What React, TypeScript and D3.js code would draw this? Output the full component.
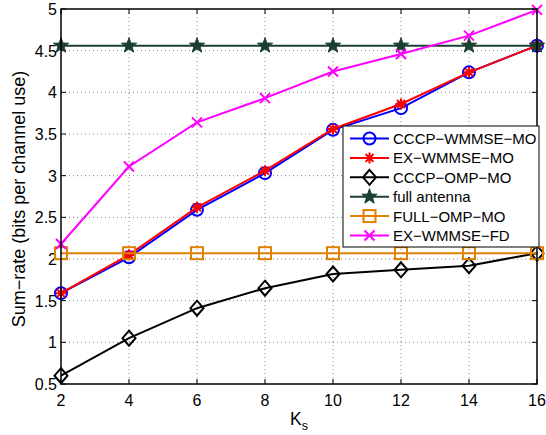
import React from "react";
import * as d3 from "d3";

const ks = [2, 4, 6, 8, 10, 12, 14, 16];
const cccpWmmseMo = [1.59, 2.02, 2.59, 3.03, 3.55, 3.81, 4.24, 4.56];
const exWmmseMo = [1.59, 2.05, 2.62, 3.06, 3.56, 3.86, 4.24, 4.56];
const cccpOmpMo = [0.6, 1.05, 1.41, 1.65, 1.82, 1.87, 1.92, 2.07];
const fullAntenna = [4.56, 4.56, 4.56, 4.56, 4.56, 4.56, 4.56, 4.56];
const fullOmpMo = [2.07, 2.07, 2.07, 2.07, 2.07, 2.07, 2.07, 2.07];
const exWmmseFd = [2.18, 3.11, 3.64, 3.93, 4.25, 4.46, 4.68, 4.99];

const xTicks = [2, 4, 6, 8, 10, 12, 14, 16];
const yTicks = [0.5, 1, 1.5, 2, 2.5, 3, 3.5, 4, 4.5, 5];

const series = [
  { name: "CCCP\u2212WMMSE\u2212MO", values: cccpWmmseMo, color: "#0000ff", marker: "circle" },
  { name: "EX\u2212WMMSE\u2212MO", values: exWmmseMo, color: "#ff0000", marker: "asterisk" },
  { name: "CCCP\u2212OMP\u2212MO", values: cccpOmpMo, color: "#000000", marker: "diamond" },
  { name: "full antenna", values: fullAntenna, color: "#1b4030", marker: "star" },
  { name: "FULL\u2212OMP\u2212MO", values: fullOmpMo, color: "#df8000", marker: "square" },
  { name: "EX\u2212WMMSE\u2212FD", values: exWmmseFd, color: "#ff00ff", marker: "cross" },
];

const W = 546;
const H = 435;
const m = { left: 61, right: 537, top: 9, bottom: 384 };
const font = "'Liberation Sans', Arial, Helvetica, sans-serif";

const x = d3.scaleLinear().domain([2, 16]).range([m.left, m.right]);
const y = d3.scaleLinear().domain([0.5, 5]).range([m.bottom, m.top]);

function starPath(cx: number, cy: number, R: number) {
  const r = R * 0.4;
  const pts: string[] = [];
  for (let i = 0; i < 10; i++) {
    const a = -Math.PI / 2 + (i * Math.PI) / 5;
    const rr = i % 2 === 0 ? R : r;
    pts.push(`${cx + rr * Math.cos(a)},${cy + rr * Math.sin(a)}`);
  }
  return "M" + pts.join("L") + "Z";
}

function Marker({ type, cx, cy, color }: { type: string; cx: number; cy: number; color: string }) {
  const sw = 2;
  if (type === "circle")
    return <circle cx={cx} cy={cy} r={6} fill="none" stroke={color} strokeWidth={sw} />;
  if (type === "square")
    return <rect x={cx - 6} y={cy - 6} width={12} height={12} fill="none" stroke={color} strokeWidth={sw} />;
  if (type === "diamond")
    return (
      <path
        d={`M${cx},${cy - 7.5}L${cx + 6.5},${cy}L${cx},${cy + 7.5}L${cx - 6.5},${cy}Z`}
        fill="none"
        stroke={color}
        strokeWidth={sw}
      />
    );
  if (type === "star")
    return <path d={starPath(cx, cy, 8)} fill={color} stroke={color} strokeWidth={1} />;
  if (type === "cross") {
    const s = 5;
    return (
      <path
        d={`M${cx - s},${cy - s}L${cx + s},${cy + s}M${cx - s},${cy + s}L${cx + s},${cy - s}`}
        stroke={color}
        strokeWidth={sw}
      />
    );
  }
  // asterisk
  const s = 5.5;
  const d2 = s * 0.72;
  return (
    <path
      d={`M${cx},${cy - s}L${cx},${cy + s}M${cx - s},${cy}L${cx + s},${cy}M${cx - d2},${cy - d2}L${cx + d2},${cy + d2}M${cx - d2},${cy + d2}L${cx + d2},${cy - d2}`}
      stroke={color}
      strokeWidth={sw}
    />
  );
}

export default function App() {
  const line = d3
    .line<number>()
    .x((_, i) => x(ks[i]))
    .y((d) => y(d));

  const lg = { x: 343, y: 126, w: 196, h: 121, step: 19.4 };

  return (
    <svg width={W} height={H} style={{ position: "absolute", left: 0, top: 0 }} fontFamily={font}>
      <rect x={0} y={0} width={W} height={H} fill="#fff" />
      {/* grid */}
      {xTicks.slice(1, -1).map((t) => (
        <line key={"gx" + t} x1={x(t)} x2={x(t)} y1={m.top} y2={m.bottom} stroke="#888" strokeWidth={1} strokeDasharray="1,3" />
      ))}
      {yTicks.slice(1, -1).map((t) => (
        <line key={"gy" + t} x1={m.left} x2={m.right} y1={y(t)} y2={y(t)} stroke="#888" strokeWidth={1} strokeDasharray="1,3" />
      ))}
      {/* ticks */}
      {xTicks.map((t) => (
        <g key={"tx" + t}>
          <line x1={x(t)} x2={x(t)} y1={m.bottom} y2={m.bottom - 5} stroke="#000" />
          <line x1={x(t)} x2={x(t)} y1={m.top} y2={m.top + 5} stroke="#000" />
          <text x={x(t)} y={406} fontSize={16} textAnchor="middle">
            {t}
          </text>
        </g>
      ))}
      {yTicks.map((t) => (
        <g key={"ty" + t}>
          <line x1={m.left} x2={m.left + 5} y1={y(t)} y2={y(t)} stroke="#000" />
          <line x1={m.right} x2={m.right - 5} y1={y(t)} y2={y(t)} stroke="#000" />
          <text x={57} y={y(t) + 6} fontSize={16} textAnchor="end">
            {String(t)}
          </text>
        </g>
      ))}
      {/* series */}
      {series.map((s) => (
        <g key={s.name}>
          <path d={line(s.values) || ""} fill="none" stroke={s.color} strokeWidth={2} />
          {s.values.map((v, i) => (
            <Marker key={i} type={s.marker} cx={x(ks[i])} cy={y(v)} color={s.color} />
          ))}
        </g>
      ))}
      {/* axes box */}
      <rect x={m.left} y={m.top} width={m.right - m.left} height={m.bottom - m.top} fill="none" stroke="#000" strokeWidth={1.5} />
      {/* labels */}
      <text x={(m.left + m.right) / 2} y={425} fontSize={17.5} textAnchor="middle">
        K
        <tspan fontSize={12.5} dy={5}>
          s
        </tspan>
      </text>
      <text transform={`translate(25,199) rotate(-90)`} fontSize={18} textAnchor="middle">
        Sum{"\u2212"}rate (bits per channel use)
      </text>
      {/* legend */}
      <rect x={lg.x} y={lg.y} width={lg.w} height={lg.h} fill="#fff" stroke="#000" strokeWidth={1} />
      {series.map((s, i) => {
        const cy = lg.y + 12.5 + i * lg.step;
        return (
          <g key={"lg" + s.name}>
            <line x1={350} x2={389} y1={cy} y2={cy} stroke={s.color} strokeWidth={2} />
            <Marker type={s.marker} cx={369.5} cy={cy} color={s.color} />
            <text x={393} y={cy + 5.5} fontSize={15}>
              {s.name}
            </text>
          </g>
        );
      })}
    </svg>
  );
}
